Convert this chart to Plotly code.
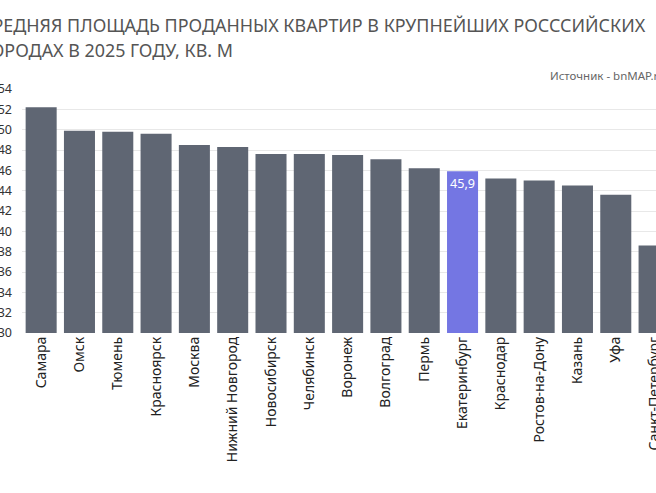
import plotly.graph_objects as go

cities = ["Самара", "Омск", "Тюмень", "Красноярск", "Москва", "Нижний Новгород",
          "Новосибирск", "Челябинск", "Воронеж", "Волгоград", "Пермь", "Екатеринбург",
          "Краснодар", "Ростов-на-Дону", "Казань", "Уфа", "Санкт-Петербург"]
values = [52.2, 49.9, 49.8, 49.6, 48.5, 48.3, 47.6, 47.6, 47.5, 47.1, 46.2, 45.9,
          45.2, 45.0, 44.5, 43.6, 38.6]
highlight = "Екатеринбург"
y_ticks = list(range(30, 56, 2))

title_line1 = "СРЕДНЯЯ ПЛОЩАДЬ ПРОДАННЫХ КВАРТИР В КРУПНЕЙШИХ РОСССИЙСКИХ"
title_line2 = "ГОРОДАХ В 2025 ГОДУ, КВ. М"
source = "Источник - bnMAP.ru"

GREY = "#5f6673"
BLUE = "#7476e3"
colors = [BLUE if c == highlight else GREY for c in cities]
texts = [f"{v:.1f}".replace(".", ",") if c == highlight else "" for c, v in zip(cities, values)]

W, H = 656, 493
ML, MT, MB = 22, 89, 159.5
plot_w = W - ML
plot_h = H - MT - MB

def px_x(x):
    return (x - ML) / plot_w

def px_y(y):
    return (H - MB - y) / plot_h

FONT = "Noto Sans"

fig = go.Figure(go.Bar(
    x=cities, y=values, marker=dict(color=colors, line=dict(width=0)),
    text=texts, textposition="inside", insidetextanchor="end", textangle=0,
    textfont=dict(family=FONT, size=14, color="white"),
    cliponaxis=True, width=0.81,
))

fig.update_layout(
    width=W, height=H,
    margin=dict(l=ML, r=0, t=MT, b=MB, pad=0, autoexpand=False),
    paper_bgcolor="white", plot_bgcolor="white",
    showlegend=False,
    font=dict(family=FONT, color="#333333"),
    xaxis=dict(range=[-0.5, 16.05], tickangle=-90, showgrid=False, showline=False,
               ticks="", automargin=False,
               tickfont=dict(family=FONT, size=14, color="#222222"),
               fixedrange=True),
    yaxis=dict(range=[30, 54], tickvals=y_ticks, ticktext=[str(t) for t in y_ticks],
               showgrid=True, gridcolor="#e8e8e8", gridwidth=1, zeroline=False,
               showline=False, ticks="", ticklabelstandoff=9, automargin=False,
               tickfont=dict(family=FONT, size=12.5, color="#333333")),
)

fig.add_annotation(text=title_line1, xref="paper", yref="paper",
                   x=px_x(-21), y=px_y(25), xanchor="left", yanchor="middle",
                   showarrow=False, font=dict(family=FONT, size=17.9, color="#555555"))
fig.add_annotation(text=title_line2, xref="paper", yref="paper",
                   x=px_x(-20), y=px_y(50), xanchor="left", yanchor="middle",
                   showarrow=False, font=dict(family=FONT, size=17.9, color="#555555"))
fig.add_annotation(text=source, xref="paper", yref="paper",
                   x=px_x(548), y=px_y(75), xanchor="left", yanchor="middle",
                   showarrow=False, font=dict(family=FONT, size=11.5, color="#666666"))

fig.write_html("out.html")
